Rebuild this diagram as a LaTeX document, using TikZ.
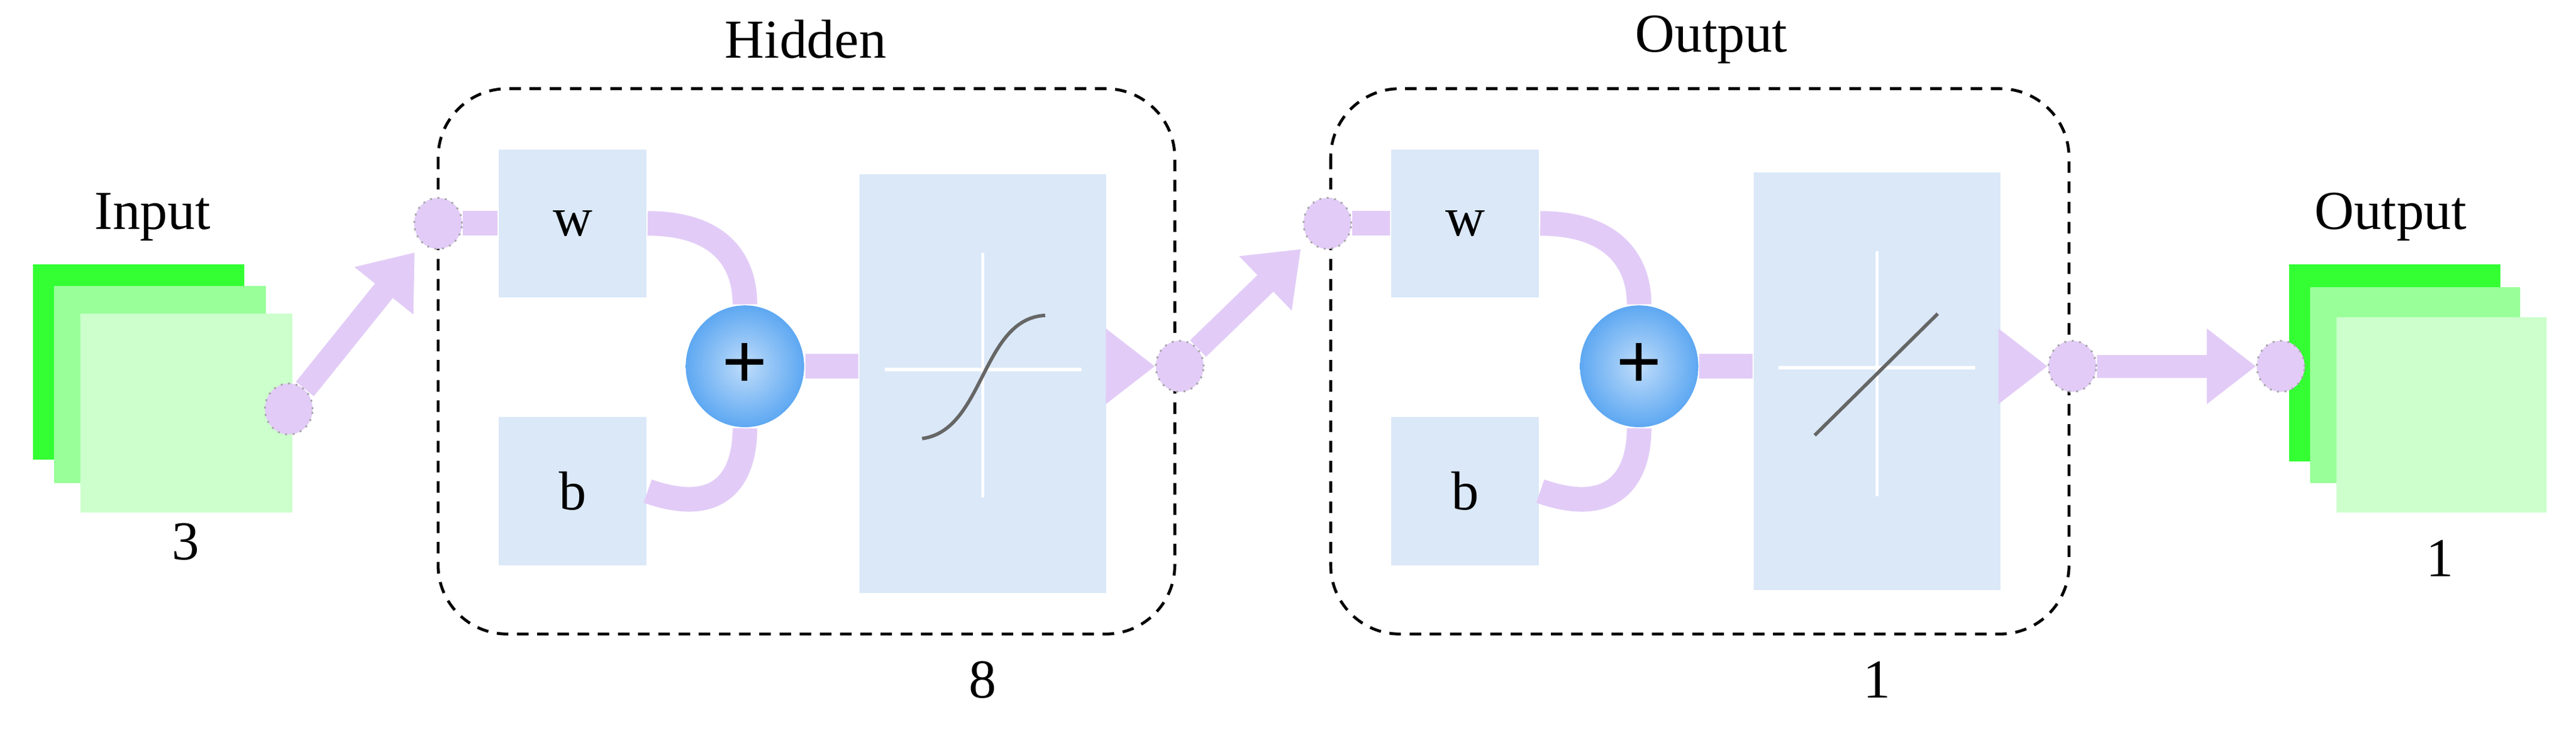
\documentclass[tikz,border=0pt]{standalone}
\usepackage{fontspec}
\setmainfont{Liberation Serif}
\usetikzlibrary{arrows.meta,shapes.geometric}
\definecolor{lav}{HTML}{E2CCF7}
\definecolor{boxc}{HTML}{DAE8F8}
\definecolor{g1}{HTML}{33FF33}
\definecolor{g2}{HTML}{99FF99}
\definecolor{g3}{HTML}{CCFFCC}
\definecolor{ballout}{HTML}{5EA8F2}
\tikzset{
  lbl/.style={font=\fontsize{9.5}{11}\selectfont, inner sep=0pt},
  blk/.style={fill=boxc, draw=none},
  pt/.style={ellipse, fill=lav, draw=gray!70, densely dotted, line width=0.3pt, minimum width=0.29cm, minimum height=0.31cm, inner sep=0pt},
  wire/.style={draw=lav, line width=0.15cm},
  fat/.style={draw=lav, line width=0.14cm, -{Triangle[length=0.3cm,width=0.44cm]}},
  sum/.style={ellipse, minimum width=0.72cm, minimum height=0.74cm, inner sep=0pt, inner color=white!60!ballout, outer color=ballout, font=\bfseries\fontsize{14}{14}\selectfont},
  grp/.style={draw=black, dashed, dash pattern=on 2pt off 1.5pt, line width=0.5pt, rounded corners=0.42cm},
  axis/.style={draw=white, line width=0.6pt},
  curve/.style={draw=gray!80!black, line width=0.6pt}
}
\begin{document}
\begin{tikzpicture}[x=0.01cm,y=-0.01cm]
\useasboundingbox (0,0) rectangle (1570,444.4);
% input stack
\fill[g1] (20,161) rectangle (149,280);
\fill[g2] (33,174) rectangle (162,294);
\fill[g3] (49,191) rectangle (178,312);
\node[lbl] (inlbl) at (93,132) {Input};
\node[lbl] (incount) at (113,330) {3};
% output stack
\fill[g1] (1395,161) rectangle (1524,281);
\fill[g2] (1408,175) rectangle (1536,294);
\fill[g3] (1424,193) rectangle (1552,312);
\node[lbl] (outlbl) at (1457,132) {Output};
\node[lbl] (outcount) at (1487,340) {1};

% groups
\draw[grp] (267,54) rectangle (716,386);
\node[lbl] (hidlbl) at (491,24) {Hidden};
\node[lbl] (hidcount) at (599,414) {8};
\draw[grp] (811,54) rectangle (1261,386);
\node[lbl] (outglbl) at (1043,24) {Output};
\node[lbl] (outgcount) at (1144,414) {1};

% hidden layer blocks
\node[blk, minimum width=0.9cm, minimum height=0.9cm, lbl] (w1) at (349,136) {w};
\node[blk, minimum width=0.9cm, minimum height=0.9cm, lbl] (b1) at (349,299) {b};
\node[blk, minimum width=1.5cm, minimum height=2.55cm] (f1) at (599,233.5) {};
\node[sum] (s1) at (454,223) {+};
% output layer blocks
\node[blk, minimum width=0.9cm, minimum height=0.9cm, lbl] (w2) at (893,136) {w};
\node[blk, minimum width=0.9cm, minimum height=0.9cm, lbl] (b2) at (893,299) {b};
\node[blk, minimum width=1.5cm, minimum height=2.54cm] (f2) at (1144,232) {};
\node[sum] (s2) at (999,223) {+};

% wires (behind sum nodes drawn again after)
\begin{scope}[on background layer/.style={}]
\draw[wire] (w1.east) .. controls (440,136) and (454,160) .. (s1.north);
\draw[wire] (b1.east) .. controls (440,315) and (454,290) .. (s1.south);
\draw[wire] (s1.east) -- (f1.west |- s1.east);
\draw[wire] (w2.east) .. controls (984,136) and (999,160) .. (s2.north);
\draw[wire] (b2.east) .. controls (984,315) and (999,290) .. (s2.south);
\draw[wire] (s2.east) -- (f2.west |- s2.east);
\end{scope}
\node[sum] at (s1) {+};
\node[sum] at (s2) {+};

% transfer graphs
\draw[axis] (539,225) -- (659,225);
\draw[axis] (599,154) -- (599,303);
\draw[curve] (562,267) .. controls (600,262) and (598,194) .. (637,192);
\draw[axis] (1084,224) -- (1204,224);
\draw[axis] (1144,153) -- (1144,302);
\draw[curve] (1106,265) -- (1181,191);

% points
\node[pt] (p0) at (176,249) {};
\node[pt] (p1) at (267,136) {};
\node[pt] (p2) at (719,223) {};
\node[pt] (p3) at (809,136) {};
\node[pt] (p4) at (1263,223) {};
\node[pt] (p5) at (1390,223) {};

% connectors
\draw[wire] (p1.east) -- (w1.west);
\draw[wire] (p3.east) -- (w2.west);
\draw[fat, shorten >=2pt] (p0) -- (p1);
\draw[fat] (f1.east |- p2) -- (p2.west);
\draw[fat, shorten >=2pt] (p2) -- (p3);
\draw[fat] (f2.east |- p4) -- (p4.west);
\draw[fat] (p4.east) -- (p5.west);
\node[pt] at (p0) {};
\node[pt] at (p1) {};
\node[pt] at (p2) {};
\node[pt] at (p3) {};
\node[pt] at (p4) {};
\node[pt] at (p5) {};
\end{tikzpicture}
\end{document}
